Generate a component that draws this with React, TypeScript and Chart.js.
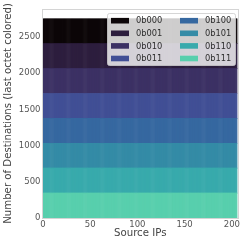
import React, { useEffect, useRef } from 'react';
import { Chart, registerables } from 'chart.js';

Chart.register(...registerables);

// ---- data ----
const octetLabels = ['0b000', '0b001', '0b010', '0b011', '0b100', '0b101', '0b110', '0b111'];
const octetColors = ['#0c0608', '#2d1e3e', '#3c3164', '#414f95', '#3668a0', '#348ba6', '#38aaac', '#58cfad'];
const destinationsPerOctet = [344, 344, 344, 344, 344, 344, 344, 344];
const sourceIpCount = 206;
const xTickValues = [0, 50, 100, 150, 200];
const yTickValues = [0, 500, 1000, 1500, 2000, 2500];
const yAxisMax = 2887;

const FONT = "'DejaVu Sans', 'Liberation Sans', sans-serif";

const legendPlugin = {
  id: 'boxLegend',
  afterDraw(chart: any) {
    const ctx = chart.ctx as CanvasRenderingContext2D;
    const ca = chart.chartArea;
    // frame (spines)
    ctx.save();
    ctx.strokeStyle = '#d4d4d4';
    ctx.lineWidth = 1;
    ctx.strokeRect(Math.round(ca.left) - 0.5, Math.round(ca.top) + 0.5, Math.round(ca.right - ca.left) + 1, Math.round(ca.bottom - ca.top));
    ctx.restore();

    const w = 128;
    const h = 52;
    const bx = ca.right - 2.5 - w;
    const by = ca.top + 4;
    ctx.save();
    ctx.fillStyle = 'rgba(255,255,255,0.8)';
    ctx.strokeStyle = 'rgba(204,204,204,0.8)';
    ctx.lineWidth = 1;
    ctx.beginPath();
    if ((ctx as any).roundRect) (ctx as any).roundRect(bx + 0.5, by + 0.5, w, h, 2);
    else ctx.rect(bx + 0.5, by + 0.5, w, h);
    ctx.fill();
    ctx.stroke();
    ctx.font = `8.3px ${FONT}`;
    ctx.textBaseline = 'middle';
    ctx.textAlign = 'left';
    octetLabels.forEach((lab, i) => {
      const col = Math.floor(i / 4);
      const row = i % 4;
      const cy = by + 7.7 + row * 12.6;
      const px = bx + 4 + col * 69;
      ctx.fillStyle = octetColors[i];
      ctx.fillRect(px, cy - 2.8, 18, 5.6);
      ctx.fillStyle = '#2e2e2e';
      ctx.fillText(lab, px + 25, cy + 0.5);
    });
    ctx.restore();
  },
};

export default function App() {
  const ref = useRef<HTMLCanvasElement>(null);
  useEffect(() => {
    document.body.style.margin = '0';
    const datasets = octetLabels
      .map((lab, k) => ({
        label: lab,
        data: Array.from({ length: sourceIpCount }, (_, i) => ({ x: i + 0.5, y: destinationsPerOctet[k] })),
        backgroundColor: octetColors[k],
        borderWidth: 0,
        barPercentage: 1,
        categoryPercentage: 1,
      }))
      .reverse();
    const chart = new Chart(ref.current as HTMLCanvasElement, {
      type: 'bar',
      data: { datasets },
      options: {
        animation: false,
        responsive: false,
        layout: { padding: { top: 9, right: 11.5, left: 0, bottom: 0 } },
        plugins: { legend: { display: false }, tooltip: { enabled: false } },
        scales: {
          x: {
            type: 'linear',
            stacked: true,
            min: 0,
            max: sourceIpCount,
            offset: false,
            grid: { display: false, drawTicks: false },
            border: { display: false },
            afterBuildTicks: (s: any) => { s.ticks = xTickValues.map((v) => ({ value: v })); },
            afterFit: (s: any) => { s.height = 31; },
            ticks: {
              padding: 1.5,
              maxRotation: 0,
              color: '#555',
              font: { family: FONT, size: 8.5 },
              callback: (v: any) => String(v),
            },
            title: {
              display: true,
              text: 'Source IPs',
              color: '#444',
              font: { family: FONT, size: 10.2 },
              padding: { top: 0, bottom: 9.5 },
            },
          },
          y: {
            stacked: true,
            min: 0,
            max: yAxisMax,
            grid: { display: false, drawTicks: false },
            border: { display: false },
            afterBuildTicks: (s: any) => { s.ticks = yTickValues.map((v) => ({ value: v })); },
            afterFit: (s: any) => { s.width = 43; },
            ticks: {
              padding: 2.5,
              color: '#555',
              font: { family: FONT, size: 8.5 },
              callback: (v: any) => String(v),
            },
            title: {
              display: true,
              text: 'Number of Destinations (last octet colored)',
              color: '#444',
              font: { family: FONT, size: 10.2 },
              padding: { top: 2, bottom: 0 },
            },
          },
        },
      },
      plugins: [legendPlugin],
    } as any);
    return () => chart.destroy();
  }, []);
  return (
    <div style={{ width: 249, height: 249 }}>
      <canvas ref={ref} width={249} height={249} style={{ display: 'block' }} />
    </div>
  );
}
